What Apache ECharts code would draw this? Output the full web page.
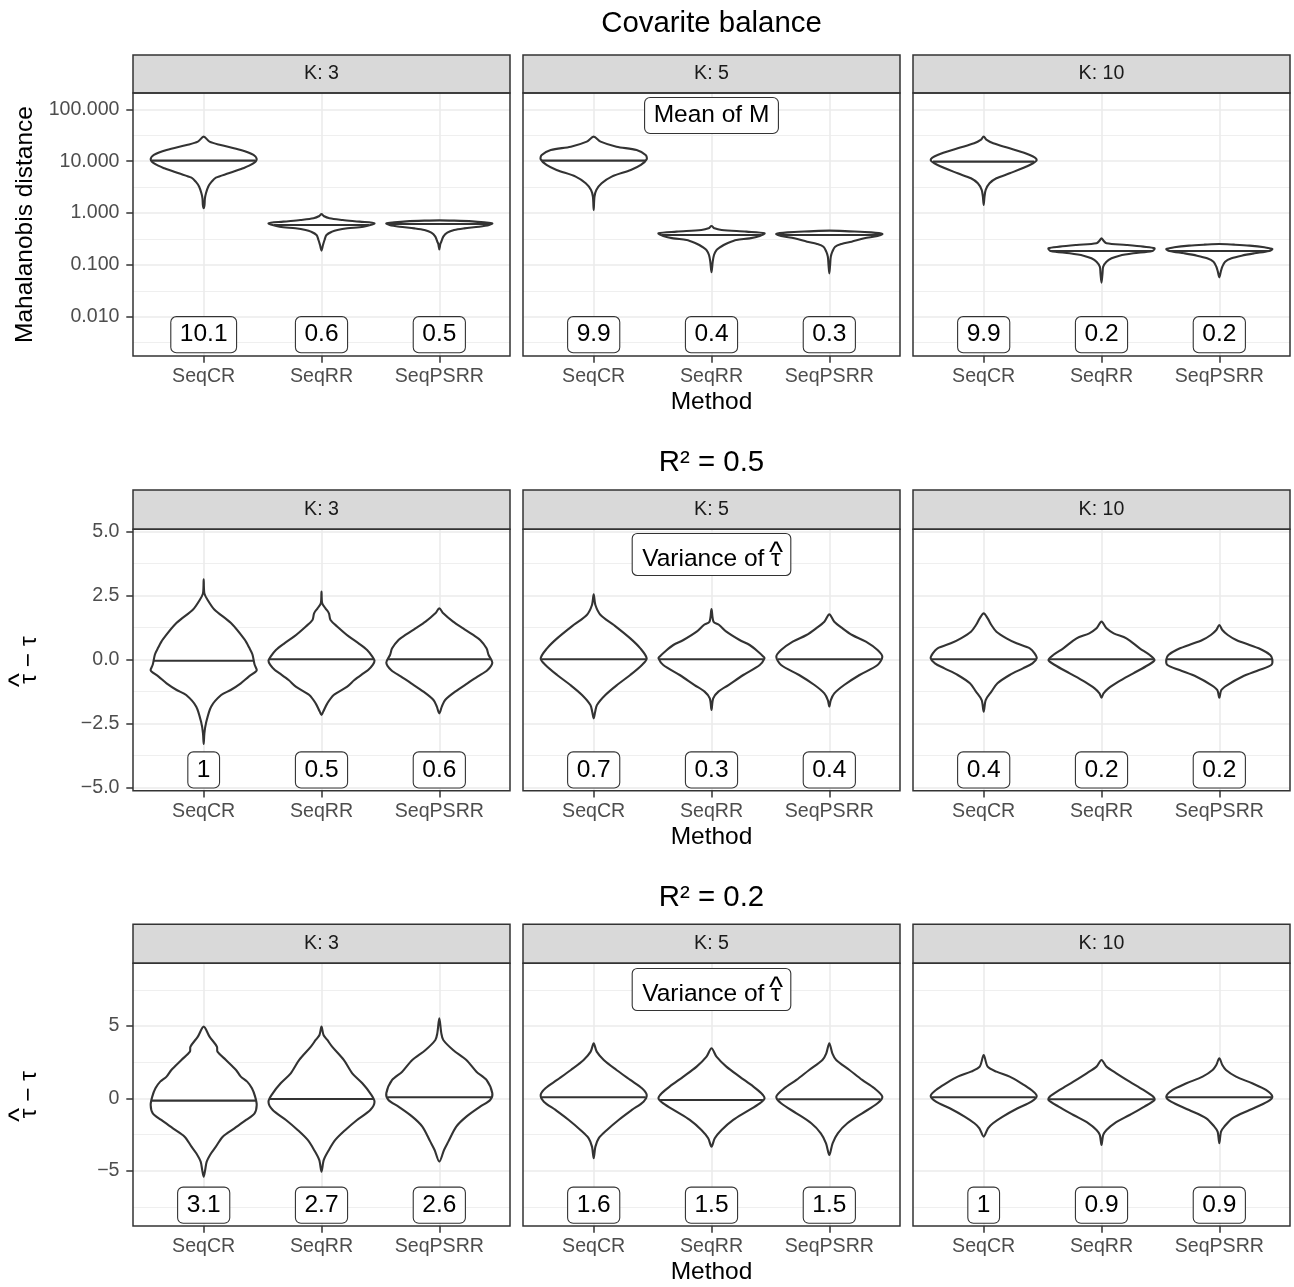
<!DOCTYPE html>
<html><head><meta charset="utf-8">
<script src="https://cdn.jsdelivr.net/npm/echarts@6/dist/echarts.min.js"></script>
<style>html,body{margin:0;padding:0;background:#fff}#chart{width:1294px;height:1287px}</style>
</head><body><div id="chart"></div>
<script>
// ---------------- data ----------------
const methods = ['SeqCR', 'SeqRR', 'SeqPSRR'];
const facetNames = ['K: 3', 'K: 5', 'K: 10'];
const rowTitles = ['Covarite balance', 'R² = 0.5', 'R² = 0.2'];
const yTitles = ['Mahalanobis distance', 'τ − τ', 'τ − τ'];   // rows 2-3: first τ carries a hat
const xTitle = 'Method';
const annotations = ['Mean of M', 'Variance of τ', 'Variance of τ']; // rows 2-3: last τ carries a hat

// tick values (row 1 in log10 units of the distance)
const covTicks = [-2, -1, 0, 1, 2];
const covMinor = [-2.5, -1.5, -0.5, 0.5, 1.5];
const r05Ticks = [-5, -2.5, 0, 2.5, 5];
const r05Minor = [-3.75, -1.25, 1.25, 3.75];
const r02Ticks = [-5, 0, 5];
const r02Minor = [-7.5, -2.5, 2.5, 7.5];

// violin profiles: [value, relative half-width] (row 1 values are log10 of distance)
const covK3SeqCR = [[0.091,0],[0.15,0.015],[0.283,0.023],[0.380,0.043],[0.507,0.085],[0.604,0.15],[0.681,0.23],[0.765,0.47],[0.862,0.74],[0.945,0.92],[1.035,1],[1.119,0.94],[1.215,0.70],[1.311,0.32],[1.376,0.11],[1.472,0]];
const covK3SeqRR = [[-0.727,0],[-0.617,0.028],[-0.521,0.057],[-0.424,0.094],[-0.360,0.20],[-0.328,0.30],[-0.295,0.49],[-0.264,0.79],[-0.199,1],[-0.167,0.72],[-0.135,0.40],[-0.102,0.15],[-0.058,0.04],[-0.019,0]];
const covK3SeqPSRR = [[-0.701,0],[-0.598,0.019],[-0.553,0.038],[-0.456,0.075],[-0.379,0.15],[-0.328,0.28],[-0.296,0.47],[-0.264,0.75],[-0.231,0.94],[-0.199,1],[-0.180,0.85],[-0.161,0.62],[-0.148,0.28],[-0.142,0]];
const covK5SeqCR = [[0.058,0],[0.315,0.015],[0.444,0.05],[0.572,0.15],[0.701,0.34],[0.829,0.70],[0.926,0.89],[1.035,1],[1.119,0.98],[1.215,0.81],[1.279,0.43],[1.376,0.13],[1.472,0]];
const covK5SeqRR = [[-1.144,0],[-0.939,0.023],[-0.810,0.047],[-0.714,0.094],[-0.669,0.15],[-0.617,0.23],[-0.572,0.32],[-0.521,0.47],[-0.489,0.72],[-0.444,0.91],[-0.392,1],[-0.360,0.66],[-0.328,0.19],[-0.296,0.057],[-0.251,0]];
const covK5SeqPSRR = [[-1.164,0],[-1.0,0.015],[-0.842,0.028],[-0.746,0.057],[-0.650,0.11],[-0.598,0.23],[-0.553,0.42],[-0.489,0.66],[-0.444,0.91],[-0.405,1],[-0.373,0.79],[-0.354,0.38],[-0.341,0]];
const covK10SeqCR = [[0.154,0],[0.315,0.015],[0.444,0.038],[0.572,0.11],[0.669,0.24],[0.765,0.49],[0.926,0.87],[1.022,1],[1.119,0.87],[1.247,0.49],[1.344,0.18],[1.408,0.057],[1.472,0]];
const covK10SeqRR = [[-1.344,0],[-1.164,0.019],[-1.035,0.032],[-0.939,0.094],[-0.874,0.19],[-0.823,0.34],[-0.778,0.60],[-0.733,0.96],[-0.681,1],[-0.649,0.79],[-0.617,0.47],[-0.585,0.094],[-0.534,0.038],[-0.489,0]];
const covK10SeqPSRR = [[-1.241,0],[-1.131,0.028],[-1.035,0.057],[-0.939,0.11],[-0.874,0.23],[-0.823,0.42],[-0.778,0.66],[-0.733,0.94],[-0.694,1],[-0.662,0.85],[-0.630,0.57],[-0.611,0.28],[-0.598,0]];

const r05K3SeqCR = [[-3.306,0],[-2.889,0.013],[-2.497,0.043],[-1.845,0.14],[-1.389,0.33],[-1.193,0.51],[-0.932,0.70],[-0.672,0.85],[-0.457,0.99],[-0.391,1],[-0.196,0.96],[0.196,0.92],[0.457,0.86],[0.783,0.77],[1.435,0.51],[1.958,0.20],[2.328,0.075],[2.589,0.013],[3.137,0]];
const r05K3SeqRR = [[-2.171,0],[-2.04,0.032],[-1.715,0.11],[-1.389,0.23],[-1.063,0.485],[-0.802,0.62],[-0.541,0.79],[-0.411,0.88],[-0.2,0.97],[-0.046,1],[0.111,0.96],[0.372,0.86],[0.632,0.70],[0.893,0.52],[1.285,0.30],[1.545,0.17],[1.806,0.14],[2.002,0.075],[2.198,0.013],[2.654,0]];
const r05K3SeqPSRR = [[-2.106,0],[-1.845,0.047],[-1.585,0.11],[-1.258,0.30],[-0.932,0.53],[-0.672,0.72],[-0.411,0.91],[-0.124,1],[0.176,0.93],[0.437,0.89],[0.763,0.77],[0.959,0.64],[1.219,0.45],[1.480,0.26],[1.806,0.075],[2.002,0]];
const r05K5SeqCR = [[-2.302,0],[-2.041,0.028],[-1.780,0.062],[-1.389,0.22],[-0.998,0.44],[-0.606,0.69],[-0.215,0.91],[0.046,1],[0.437,0.88],[0.828,0.69],[1.350,0.38],[1.741,0.13],[2.132,0.032],[2.550,0]];
const r05K5SeqRR = [[-1.976,0],[-1.519,0.032],[-1.258,0.13],[-0.998,0.32],[-0.606,0.60],[-0.215,0.91],[0.046,1],[0.111,0.98],[0.306,0.88],[0.567,0.72],[0.763,0.53],[1.089,0.28],[1.350,0.145],[1.480,0.038],[1.976,0]];
const r05K5SeqPSRR = [[-1.845,0],[-1.585,0.028],[-1.324,0.094],[-0.998,0.28],[-0.606,0.57],[-0.215,0.91],[0.111,1],[0.372,0.91],[0.698,0.69],[0.959,0.43],[1.219,0.25],[1.480,0.094],[1.767,0]];
const r05K10SeqCR = [[-2.041,0],[-1.585,0.038],[-1.258,0.145],[-0.932,0.26],[-0.606,0.49],[-0.346,0.74],[-0.150,0.92],[0.046,1],[0.241,0.96],[0.437,0.87],[0.633,0.62],[0.828,0.43],[1.089,0.24],[1.350,0.145],[1.611,0.075],[1.806,0]];
const r05K10SeqRR = [[-1.493,0],[-1.324,0.038],[-1.128,0.13],[-0.867,0.32],[-0.541,0.60],[-0.215,0.88],[-0.020,1],[0.176,0.91],[0.437,0.72],[0.828,0.47],[1.024,0.23],[1.219,0.094],[1.480,0]];
const r05K10SeqPSRR = [[-1.493,0],[-1.193,0.038],[-0.998,0.15],[-0.672,0.43],[-0.411,0.75],[-0.215,0.98],[0.007,1],[0.176,0.96],[0.372,0.81],[0.567,0.57],[0.763,0.32],[0.959,0.16],[1.154,0.057],[1.350,0]];

const r02K3SeqCR = [[-5.416,0],[-4.955,0.028],[-4.379,0.057],[-3.803,0.14],[-3.343,0.23],[-2.652,0.36],[-2.075,0.58],[-1.500,0.80],[-1.039,0.96],[-0.463,1],[0.113,0.97],[0.689,0.91],[1.149,0.82],[1.495,0.70],[1.956,0.61],[2.647,0.42],[3.223,0.26],[3.568,0.25],[4.259,0.11],[4.950,0]];
const r02K3SeqRR = [[-5.070,0],[-4.264,0.043],[-3.573,0.14],[-2.882,0.26],[-2.191,0.45],[-1.500,0.67],[-0.809,0.92],[-0.233,1],[0.343,0.92],[1.034,0.77],[1.725,0.58],[2.647,0.42],[3.568,0.20],[4.029,0.11],[4.375,0.038],[4.950,0]];
const r02K3SeqPSRR = [[-4.379,0],[-3.573,0.089],[-2.997,0.17],[-1.960,0.32],[-1.269,0.51],[-0.578,0.77],[-0.117,0.96],[0.343,1],[1.265,0.89],[1.841,0.70],[2.647,0.51],[3.338,0.26],[4.029,0.075],[4.490,0.038],[5.526,0]];
const r02K5SeqCR = [[-4.149,0],[-3.343,0.032],[-2.767,0.094],[-2.191,0.25],[-1.500,0.47],[-0.809,0.72],[-0.233,0.94],[0.228,1],[0.689,0.91],[1.265,0.69],[1.956,0.43],[2.647,0.19],[3.223,0.057],[3.799,0]];
const r02K5SeqRR = [[-3.343,0],[-2.767,0.062],[-2.191,0.19],[-1.500,0.41],[-0.924,0.66],[-0.348,0.91],[-0.002,1],[0.343,0.94],[0.804,0.79],[1.495,0.53],[2.186,0.28],[2.877,0.094],[3.453,0]];
const r02K5SeqPSRR = [[-3.918,0],[-3.112,0.062],[-2.421,0.16],[-1.730,0.34],[-1.039,0.62],[-0.348,0.91],[0.113,1],[0.689,0.85],[1.265,0.62],[1.956,0.38],[2.647,0.13],[3.108,0.057],[3.799,0]];
const r02K10SeqCR = [[-2.652,0],[-2.075,0.081],[-1.730,0.175],[-1.269,0.36],[-0.693,0.64],[-0.233,0.90],[0.159,1],[0.574,0.90],[1.034,0.71],[1.495,0.49],[1.841,0.24],[2.186,0.075],[2.992,0]];
const r02K10SeqRR = [[-3.227,0],[-2.536,0.032],[-2.191,0.094],[-1.730,0.245],[-1.154,0.53],[-0.578,0.81],[-0.117,1],[0.113,0.975],[0.574,0.79],[1.149,0.53],[1.725,0.28],[2.186,0.094],[2.647,0]];
const r02K10SeqPSRR = [[-3.112,0],[-2.306,0.032],[-1.961,0.094],[-1.384,0.245],[-0.809,0.57],[-0.233,0.91],[0.113,1],[0.574,0.88],[1.034,0.62],[1.495,0.315],[1.956,0.126],[2.301,0.057],[2.762,0]];

// medians (horizontal line inside each violin)
const covMedK3 = [1.009, -0.231, -0.212];
const covMedK5 = [1.009, -0.424, -0.424];
const covMedK10 = [0.990, -0.733, -0.733];
const r05MedK3 = [-0.046, 0.007, 0.007];
const r05MedK5 = [0.007, 0.007, 0.007];
const r05MedK10 = [0.007, 0.007, 0.007];
const r02MedK3 = [-0.164, -0.048, 0.067];
const r02MedK5 = [0.067, -0.117, -0.071];
const r02MedK10 = [0.067, -0.071, 0.067];

// boxed summary numbers
const covMeanK3 = ['10.1', '0.6', '0.5'];
const covMeanK5 = ['9.9', '0.4', '0.3'];
const covMeanK10 = ['9.9', '0.2', '0.2'];
const r05VarK3 = ['1', '0.5', '0.6'];
const r05VarK5 = ['0.7', '0.3', '0.4'];
const r05VarK10 = ['0.4', '0.2', '0.2'];
const r02VarK3 = ['3.1', '2.7', '2.6'];
const r02VarK5 = ['1.6', '1.5', '1.5'];
const r02VarK10 = ['1', '0.9', '0.9'];

// ---------------- layout / style ----------------
const FONT = '"Liberation Sans", Arial, Helvetica, sans-serif';
const panelLeft = [133, 523, 913];
const panelW = 377;
const rows = [
  {stripTop: 55, plotTop: 93, plotBottom: 356, titleY: 23.5, yMin: -2.758, yMax: 2.314, labelY: -2.347, annY: 1.88,
   ticks: covTicks, minor: covMinor, fmt: v => Math.pow(10, v).toFixed(3), hat: false},
  {stripTop: 490, plotTop: 529.3, plotBottom: 790.7, titleY: 463, yMin: -5.133, yMax: 5.094, labelY: -4.32, annY: 4.11,
   ticks: r05Ticks, minor: r05Minor, fmt: v => (v < 0 ? '−' : '') + Math.abs(v).toFixed(1), hat: true},
  {stripTop: 924.3, plotTop: 963.3, plotBottom: 1226, titleY: 897.5, yMin: -8.83, yMax: 9.33, labelY: -7.39, annY: 7.52,
   ticks: r02Ticks, minor: r02Minor, fmt: v => (v < 0 ? '−' : '') + Math.abs(v), hat: true}
];
const facetProfiles = [
  [covK3SeqCR, covK3SeqRR, covK3SeqPSRR], [covK5SeqCR, covK5SeqRR, covK5SeqPSRR], [covK10SeqCR, covK10SeqRR, covK10SeqPSRR],
  [r05K3SeqCR, r05K3SeqRR, r05K3SeqPSRR], [r05K5SeqCR, r05K5SeqRR, r05K5SeqPSRR], [r05K10SeqCR, r05K10SeqRR, r05K10SeqPSRR],
  [r02K3SeqCR, r02K3SeqRR, r02K3SeqPSRR], [r02K5SeqCR, r02K5SeqRR, r02K5SeqPSRR], [r02K10SeqCR, r02K10SeqRR, r02K10SeqPSRR]
];
const facetMedians = [covMedK3, covMedK5, covMedK10, r05MedK3, r05MedK5, r05MedK10, r02MedK3, r02MedK5, r02MedK10];
const facetLabels = [covMeanK3, covMeanK5, covMeanK10, r05VarK3, r05VarK5, r05VarK10, r02VarK3, r02VarK5, r02VarK10];

const HALF = 0.45;
const INK = '#333333';
const GRID = '#EBEBEB';
const LBL = 24.5;

const mctx = document.createElement('canvas').getContext('2d');
function textW(str, size) { mctx.font = size + 'px ' + FONT; return mctx.measureText(str).width; }

function widthAt(prof, y) {
  for (let i = 0; i < prof.length - 1; i++) {
    const a = prof[i], b = prof[i + 1];
    if (y >= a[0] && y <= b[0]) return a[1] + (b[1] - a[1]) * (y - a[0]) / (b[0] - a[0]);
  }
  return 0;
}

const grids = [], xAxes = [], yAxes = [], series = [], graphics = [];

rows.forEach((row, r) => {
  graphics.push({type: 'text', x: 711.5, y: row.titleY, z: 100,
    style: {text: rowTitles[r], fontSize: 29.4, fontFamily: FONT, fill: '#000', align: 'center', verticalAlign: 'middle'}});
  if (row.hat) {
    const cy = (row.plotTop + row.plotBottom) / 2;
    const wTot = textW(yTitles[r], LBL), wTau = textW('τ', LBL);
    graphics.push({type: 'text', x: 29, y: cy, rotation: Math.PI / 2, z: 100,
      style: {text: yTitles[r], fontSize: LBL, fontFamily: FONT, fill: '#000', align: 'center', verticalAlign: 'middle'}});
    graphics.push({type: 'text', x: 21, y: cy + wTot / 2 - wTau / 2 + 1.5, rotation: Math.PI / 2, z: 100,
      style: {text: '^', fontSize: 30, fontFamily: FONT, fill: '#000', align: 'center', verticalAlign: 'middle'}});
  }
  for (let c = 0; c < 3; c++) {
    const idx = r * 3 + c;
    const h = row.plotBottom - row.plotTop;
    grids.push({left: panelLeft[c], top: row.plotTop, width: panelW, height: h, show: false, containLabel: false, outerBoundsMode: 'none'});
    xAxes.push({
      type: 'value', gridIndex: idx, min: 0.4, max: 3.6,
      axisLine: {show: false, onZero: false},
      axisTick: {show: true, length: 6.7, customValues: [1, 2, 3], lineStyle: {color: INK, width: 1.5}},
      axisLabel: {show: true, customValues: [1, 2, 3], formatter: v => methods[Math.round(v) - 1], color: '#4D4D4D',
        fontSize: 19.6, fontFamily: FONT, margin: 10.5},
      splitLine: {show: true, lineStyle: {color: GRID, width: 1.6}},
      name: c === 1 ? xTitle : '', nameLocation: 'middle', nameGap: 34,
      nameTextStyle: {fontSize: LBL, fontFamily: FONT, color: '#000'}
    });
    const yMajorIndex = yAxes.length;
    yAxes.push({
      type: 'value', gridIndex: idx, min: row.yMin, max: row.yMax, position: 'left',
      axisLine: {show: false, onZero: false},
      axisTick: {show: c === 0, length: 6.7, customValues: row.ticks, lineStyle: {color: INK, width: 1.5}},
      axisLabel: {show: c === 0, customValues: row.ticks, formatter: row.fmt, color: '#4D4D4D', fontSize: 19.6, fontFamily: FONT, margin: 13.5},
      splitLine: {show: true, lineStyle: {color: GRID, width: 1.6}},
      name: (c === 0 && !row.hat) ? yTitles[r] : '', nameLocation: 'middle', nameGap: 95, nameRotate: 90,
      nameTextStyle: {fontSize: LBL, fontFamily: FONT, color: '#000'}
    });
    yAxes.push({
      type: 'value', gridIndex: idx, min: row.yMin, max: row.yMax, position: 'right',
      axisLine: {show: false, onZero: false},
      axisTick: {show: false, customValues: row.minor},
      axisLabel: {show: false, customValues: row.minor},
      splitLine: {show: true, lineStyle: {color: GRID, width: 0.8}}
    });
    const profiles = facetProfiles[idx];
    const medians = facetMedians[idx];
    series.push({
      type: 'custom', coordinateSystem: 'cartesian2d', xAxisIndex: idx, yAxisIndex: yMajorIndex, z: 5,
      data: methods.map((m, i) => [i + 1, medians[i], i]),
      renderItem: (params, api) => {
        const cat = api.value(0), med = api.value(1);
        const prof = profiles[api.value(2)];
        const pts = [];
        for (let i = 0; i < prof.length; i++) pts.push(api.coord([cat + HALF * prof[i][1], prof[i][0]]));
        for (let i = prof.length - 2; i >= 1; i--) pts.push(api.coord([cat - HALF * prof[i][1], prof[i][0]]));
        const wm = widthAt(prof, med);
        const a = api.coord([cat - HALF * wm, med]), b = api.coord([cat + HALF * wm, med]);
        return {type: 'group', children: [
          {type: 'polygon', shape: {points: pts, smooth: 0.3}, style: {fill: '#fff', stroke: INK, lineWidth: 2.1, lineJoin: 'round'}},
          {type: 'line', shape: {x1: a[0], y1: a[1], x2: b[0], y2: b[1]}, style: {stroke: INK, lineWidth: 2.1}}
        ]};
      }
    });
    const labels = facetLabels[idx];
    const boxStyle = (text) => ({text, fontSize: LBL, fontFamily: FONT, fill: '#000', align: 'center', verticalAlign: 'middle',
      backgroundColor: '#fff', borderColor: INK, borderWidth: 1.1, borderRadius: 5, padding: [5, 8.5]});
    series.push({
      type: 'custom', coordinateSystem: 'cartesian2d', xAxisIndex: idx, yAxisIndex: yMajorIndex, z: 10,
      data: methods.map((m, i) => [i + 1, row.labelY, i]),
      renderItem: (params, api) => {
        const p = api.coord([api.value(0), api.value(1)]);
        return {type: 'text', x: p[0], y: p[1], style: boxStyle(labels[api.value(2)])};
      }
    });
    if (c === 1) {
      series.push({
        type: 'custom', coordinateSystem: 'cartesian2d', xAxisIndex: idx, yAxisIndex: yMajorIndex, z: 10,
        data: [[2, row.annY, r]],
        renderItem: (params, api) => {
          const p = api.coord([api.value(0), api.value(1)]);
          const txt = annotations[api.value(2)];
          if (!row.hat) return {type: 'text', x: p[0], y: p[1], style: boxStyle(txt)};
          const tw = textW(txt, LBL), tauW = textW('τ', LBL);
          const W = tw + 20, H = 42;
          return {type: 'group', children: [
            {type: 'rect', shape: {x: p[0] - W / 2, y: p[1] - H / 2, width: W, height: H, r: 5},
              style: {fill: '#fff', stroke: INK, lineWidth: 1.1}},
            {type: 'text', x: p[0], y: p[1] + 4.5,
              style: {text: txt, fontSize: LBL, fontFamily: FONT, fill: '#000', align: 'center', verticalAlign: 'middle'}},
            {type: 'text', x: p[0] + tw / 2 - tauW / 2, y: p[1] - 0.5,
              style: {text: '^', fontSize: 30, fontFamily: FONT, fill: '#000', align: 'center', verticalAlign: 'middle'}}
          ]};
        }
      });
    }
    // strip
    graphics.push({type: 'rect', z: 100, shape: {x: panelLeft[c], y: row.stripTop, width: panelW, height: row.plotTop - row.stripTop},
      style: {fill: '#D9D9D9', stroke: INK, lineWidth: 1.5}});
    graphics.push({type: 'text', z: 101, x: panelLeft[c] + panelW / 2, y: (row.stripTop + row.plotTop) / 2,
      style: {text: facetNames[c], fontSize: 19.6, fontFamily: FONT, fill: '#1A1A1A', align: 'center', verticalAlign: 'middle'}});
    // panel border
    graphics.push({type: 'rect', z: 100, shape: {x: panelLeft[c], y: row.plotTop, width: panelW, height: h},
      style: {fill: 'none', stroke: INK, lineWidth: 1.5}});
  }
});

const chart = echarts.init(document.getElementById('chart'), null, {renderer: 'canvas', width: 1294, height: 1287});
chart.setOption({
  animation: false,
  backgroundColor: '#fff',
  textStyle: {fontFamily: FONT},
  grid: grids, xAxis: xAxes, yAxis: yAxes, series: series, graphic: graphics
});
</script></body></html>
